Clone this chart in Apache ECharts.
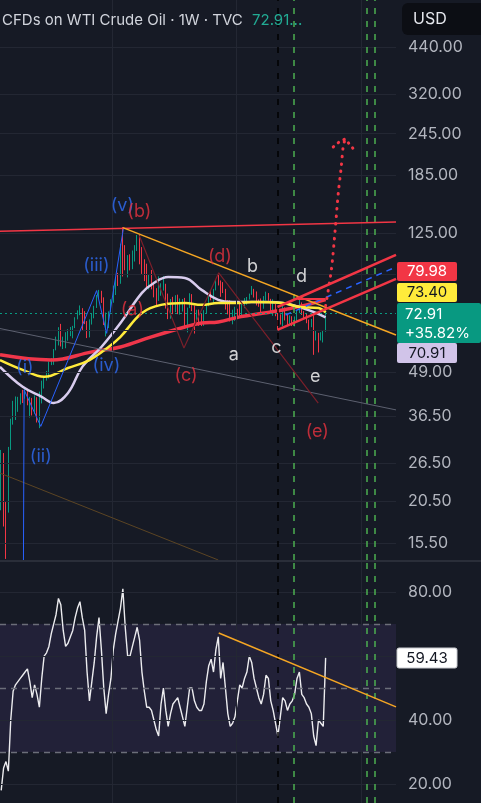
<!DOCTYPE html>
<html>
<head>
<meta charset="utf-8">
<script src="https://cdn.jsdelivr.net/npm/echarts@6.0.0/dist/echarts.min.js"></script>
<style>
html,body{margin:0;padding:0;background:#161a25;overflow:hidden}
#chart{width:481px;height:803px}
</style>
</head>
<body>
<div id="chart"></div>
<script>
// two-week candles [open, close, low, high], starting late March 2020
const candles = [
[22.4,28.3,19.3,29.0],[28.3,18.3,17.3,28.4],[18.3,17.0,13.9,20.5],[19.8,29.4,19.0,29.6],[29.4,35.5,29.0,35.8],
[35.5,36.3,34.4,40.4],[36.3,38.5,35.5,41.6],[38.5,40.5,37.5,41.5],[40.5,41.3,39.4,42.5],[41.3,41.2,39.8,43.5],
[41.2,42.3,41.0,43.8],[42.3,39.8,39.2,43.8],[39.8,41.1,36.1,41.5],[41.1,37.1,36.6,41.2],[37.1,40.9,37.0,41.9],
[40.9,35.8,34.9,41.4],[35.8,40.1,33.6,43.0],[40.1,45.5,39.7,46.3],[45.5,46.6,43.9,47.7],[46.6,48.2,46.3,49.4],
[48.2,52.2,47.0,52.7],[52.2,52.3,51.4,53.9],[52.3,56.9,51.5,57.3],[56.9,59.2,56.8,62.3],[59.2,66.1,58.7,66.4],
[66.1,61.4,58.3,67.9],[61.4,61.5,57.3,62.3],[61.5,63.1,57.6,64.2],[63.1,63.6,60.6,65.5],[63.6,65.4,62.5,66.5],
[65.4,66.3,61.6,67.0],[66.3,70.9,66.0,71.0],[70.9,74.0,70.0,74.4],[74.0,74.6,72.0,76.9],[74.6,72.1,65.0,75.5],
[72.1,68.3,67.8,74.0],[68.3,62.3,61.7,69.2],[62.3,69.3,62.0,70.0],[69.3,72.0,67.6,73.0],[72.0,75.9,70.5,76.7],
[75.9,82.3,75.6,82.5],[82.3,83.6,80.8,85.4],[83.6,80.8,78.2,84.9],[80.8,68.2,67.4,81.2],[68.2,71.7,62.4,73.3],
[71.7,73.8,66.0,73.9],[73.8,78.9,73.5,80.2],[78.9,85.1,78.3,87.9],[85.1,92.3,82.5,93.2],[92.3,91.1,87.7,95.8],
[91.1,115.7,89.0,116.6],[115.7,104.7,93.5,130.5],[104.7,99.3,97.5,115.5],[99.3,106.9,92.9,108.0],[106.9,104.7,97.4,108.6],
[104.7,110.5,98.2,111.4],[110.5,115.1,103.4,115.5],[115.1,120.7,111.0,123.7],[120.7,107.6,101.5,123.7],[107.6,104.8,95.1,114.0],
[104.8,94.7,90.6,105.0],[94.7,89.0,87.0,101.9],[89.0,90.8,85.7,94.5],[90.8,86.9,85.7,97.7],[86.9,85.1,81.2,89.8],
[85.1,79.5,76.3,86.4],[79.5,85.6,79.3,93.6],[85.6,87.9,82.1,89.3],[87.9,89.0,85.0,93.7],[89.0,76.3,75.3,89.0],
[76.3,71.0,70.1,83.3],[71.0,79.6,70.3,80.3],[79.6,73.8,72.5,81.5],[73.8,81.6,73.5,82.4],[81.6,73.4,72.5,82.7],
[73.4,76.3,72.3,80.6],[76.3,79.7,73.8,80.3],[79.7,66.7,65.7,80.9],[66.7,75.7,64.1,75.8],[75.7,82.5,75.5,83.5],
[82.5,76.8,74.0,83.0],[76.8,70.0,63.6,76.9],[70.0,72.7,69.4,74.7],[72.7,70.2,67.0,74.8],[70.2,69.2,66.9,72.6],
[69.2,73.9,67.0,74.5],[73.9,77.1,72.9,77.3],[77.1,82.8,76.5,83.3],[82.8,81.3,79.6,84.9],[81.3,85.6,77.6,86.0],
[85.6,90.8,85.1,91.2],[90.8,90.6,88.0,95.0],[90.8,87.7,81.5,91.0],[87.7,85.5,83.6,90.0],[85.5,77.2,74.8,86.0],
[77.2,75.5,72.4,79.7],[75.5,71.2,69.0,79.7],[71.2,73.6,67.7,74.7],[73.6,73.8,69.3,76.2],[73.8,73.4,70.1,75.2],
[73.4,72.3,71.4,78.8],[72.3,79.2,71.7,79.3],[79.2,80.0,75.5,80.8],[80.0,81.0,77.3,81.4],[81.0,83.2,80.0,83.3],
[83.2,85.7,82.6,87.7],[85.7,83.9,81.1,86.0],[83.9,78.3,76.9,84.5],[78.3,77.7,76.2,80.1],[77.7,75.5,72.5,80.6],
[75.5,80.7,75.2,81.9],[80.7,83.2,79.5,84.4],[83.2,80.1,79.4,83.6],[80.1,73.5,72.8,80.4],[73.5,76.7,71.7,80.2],
[76.7,73.6,71.5,77.6],[73.6,68.7,65.3,75.4],[68.7,68.2,67.6,72.4],[68.2,75.6,66.9,78.5],[75.6,71.8,69.5,75.9],
[71.8,70.4,66.9,72.9],[70.4,71.2,66.9,71.9],[71.2,67.2,66.9,71.5],[67.2,69.5,66.8,71.4],[69.5,74.0,68.8,74.2],
[74.0,77.9,73.0,80.8],[77.9,72.5,72.1,78.5],[72.5,70.7,70.3,74.0],[70.7,69.8,68.2,73.0],[69.8,67.2,65.2,69.9],
[67.2,69.4,66.4,70.2],[69.4,61.5,55.1,72.0],[61.5,63.0,60.7,64.9],[63.0,61.0,56.0,63.9],[61.0,61.5,60.7,64.2],
[61.5,64.6,59.9,65.0],[64.6,72.91,64.4,75.0]
];
const rsi = [
18,25,27,24,40,49,51,52,53,54,55,56,52,47,51,48,44,53,60,61,
63,67,70,73,78,76,68,63,64,66,68,72,75,77,72,68,55,46,52,58,
66,72,62,50,42,48,53,62,67,71,75,81,69,60,60,63,66,69,65,55,
49,44,44,43,40,37,35,45,50,43,38,42,45,46,47,44,41,38,44,50,
50,46,44,43,43,45,52,57,59,55,62,66,53,58,50,42,38,39,41,46,
51,50,53,55,60,58,53,50,47,45,48,54,53,46,43,39,35,41,47,46,
43,45,46,48,53,55,48,47,45,44,42,35,32,40,39,38,59.43
];
// moving averages [slot, price]
const maRed = [[-0.5,55.1],[21,53.2],[38,56.2],[50,58.1],[63,62.2],[77,66.5],[84,68.3],[91,68.8],[100,71.2],[105,72.1],[118,74.6],[128,77.2],[136,79.98]];
const maYellow = [[-0.5,53.2],[9,49.8],[18,47.5],[28,50.4],[37,53.2],[45,58.1],[50,62.2],[59,73.1],[67,77.2],[77,78.2],[84,77.2],[91,78.2],[100,78.2],[105,78.7],[118,78.2],[125,76.1],[133,75.6],[136,73.4]];
const maLavender = [[-0.5,50.8],[9,44.4],[17,41.5],[22,39.8],[28,42.6],[34,50.8],[42,58.1],[50,68.3],[59,83.7],[64,89.5],[70,93.2],[77,92.6],[84,85.4],[91,79.8],[97,78.7],[105,78.7],[112,78.7],[118,78.2],[125,76.1],[132,73.1],[136,70.91]];
// drawings [slot, price]
const topLine = [[-0.5,126.8],[165.5,135]];
const orangeLine = [[51,130],[165.5,63]];
const greyLine = [[-0.5,65.8],[165.5,38]];
const brownLine = [[-0.5,24.8],[91,13.8]];
const chanUpper = [[115.8,76.1],[165.5,108.1]];
const chanLower = [[115.8,65.2],[165.5,92]];
const chanMid = [[119.2,72.1],[165.5,99.7]];
const shortLevel = [[124.2,80.3],[135.9,80.3]];
const projection = [[136,76.7],[138.4,97.7],[140,128],[141.3,164],[142.5,194.5],[143.4,225.6],[144.2,236.5]];
const arrowHead = [[139.2,224],[141.7,231.8],[144.2,236.5],[146.3,227],[148.4,218]];
const waveImpulse = [[9.3,12],[9.6,43.5],[16.6,34],[40,85],[44.2,63.7],[51.2,129]];
const waveCorrection = [[57.9,123],[76.6,57.7],[91.2,95.8],[132.9,39.8]];
const rsiTrend = [[91.2,67.2],[165.5,44.1]];
const labelsBlue = [['(i)',9.9,50.4],['(ii)',16.6,27.7],['(iii)',39.9,100.4],['(iv)',44.1,51.1],['(v)',50.8,150.5]];
const labelsRed = [['(a)',55,74.6],['(b)',57.9,144.5],['(c)',77.5,47.8],['(d)',91.7,106.7],['(e)',132.5,32.8]];
const labelsWhite = [['a',97.5,55.1],['b',105.4,99.7],['c',115.4,57.7],['d',125.9,93.2],['e',131.7,47.5]];
const priceTicks = [440,320,245,185,125,95,65,49,36.5,26.5,20.5,15.5];
const rsiTicks = [80,60,40,20];
const rsiLevels = [70,50,30];
const lastPrice = 72.91;
const yearSlots = [46.5,98.5,151];
const blackMarks = [115.8];
const greenMarks = [122.6,153.4,156.6];
const tagValues = {red:'79.98', yellow:'73.40', last:'72.91', change:'+35.82%', lavender:'70.91', rsi:'59.43'};

const SLOTS = 166;
const slotNames = Array.from({length: SLOTS}, (_, i) => String(i));
const FONT = 'Inter, "Noto Sans", sans-serif';
const GRIDC = '#232733';
const GREEN = '#089981', RED = '#f23645';

function seg(data, color, width, type, extra) {
  return Object.assign({type:'line', xAxisIndex:1, yAxisIndex:0, data, symbol:'none', showSymbol:false, silent:true, z:5, clip:true,
    lineStyle:{color, width, type: type || 'solid'}}, extra || {});
}
function labelSeries(items, color) {
  return {type:'scatter', xAxisIndex:1, yAxisIndex:0, symbolSize:1, silent:true, z:7,
    itemStyle:{color:'rgba(0,0,0,0)'},
    data: items.map(d => ({name:d[0], value:[d[1], d[2]]})),
    label:{show:true, position:'inside', formatter:'{b}', color, fontSize:18, fontFamily:FONT}};
}
function vMarks(xi, yi) {
  return {type:'line', xAxisIndex:xi, yAxisIndex:yi, data:[], z:2, silent:true,
    markLine:{silent:true, symbol:['none','none'], animation:false, label:{show:false},
      data: blackMarks.map(v => ({xAxis:v, lineStyle:{color:'#000000', width:1.5, type:[6,7]}}))
        .concat(greenMarks.map(v => ({xAxis:v, lineStyle:{color:'#4caf50', width:1.5, type:[6,7]}})))}};
}

const option = {
  backgroundColor:'#161a25',
  animation:false,
  textStyle:{fontFamily:FONT},
  grid:[{left:-2, right:85, top:0, height:560}, {left:-2, right:85, top:562, bottom:0}],
  xAxis:[
    {type:'category', gridIndex:0, data:slotNames, boundaryGap:true, show:false},
    {type:'value', gridIndex:0, min:-0.5, max:165.5, show:false},
    {type:'category', gridIndex:1, data:slotNames, boundaryGap:true, show:false},
    {type:'value', gridIndex:1, min:-0.5, max:165.5, show:false}
  ],
  yAxis:[
    {type:'log', gridIndex:0, min:13.8, max:604, show:false},
    {type:'value', gridIndex:1, min:14.06, max:89.4, show:false}
  ],
  series:[
    {type:'line', xAxisIndex:1, yAxisIndex:0, data:[], z:1, silent:true,
      markLine:{silent:true, symbol:['none','none'], animation:false,
        lineStyle:{color:GRIDC, width:1, type:'solid'},
        label:{show:true, position:'end', distance:12, color:'#b2b5be', fontSize:16, fontFamily:FONT, formatter:p => Number(p.value).toFixed(2)},
        data: priceTicks.map(v => ({yAxis:v})).concat(yearSlots.map(v => ({xAxis:v, label:{show:false}})))}},
    vMarks(1, 0),
    {type:'candlestick', xAxisIndex:0, yAxisIndex:0, data:candles, barWidth:1.2, z:3, clip:true,
      itemStyle:{color:GREEN, color0:RED, borderColor:GREEN, borderColor0:RED, borderWidth:1},
      markLine:{silent:true, symbol:['none','none'], animation:false, label:{show:false},
        data:[{yAxis:lastPrice, lineStyle:{color:GREEN, width:1, type:[2,3]}}]}},
    seg(greyLine, '#5d6170', 1),
    seg(brownLine, '#5c4524', 1),
    seg(waveImpulse, '#2962ff', 1),
    seg(waveCorrection, '#7a1f2a', 1.2),
    seg(maRed, '#f0364a', 3.5, 'solid', {smooth:0.4, z:4}),
    seg(maLavender, '#d8ccee', 2.5, 'solid', {smooth:0.4, z:4}),
    seg(maYellow, '#ffeb3b', 2.5, 'solid', {smooth:0.4, z:4}),
    seg(topLine, RED, 1.5),
    seg(orangeLine, '#f5a623', 1.5),
    seg(chanUpper, RED, 2.5),
    seg(chanLower, RED, 2.5),
    seg(chanMid, '#2962ff', 1.5, [6,5]),
    seg(shortLevel, RED, 2),
    seg(projection, RED, 3, [0.5,7], {smooth:0.3, lineStyle:{color:RED, width:3, type:[0.5,7], cap:'round'}}),
    seg(arrowHead, RED, 3, [0.5,6], {lineStyle:{color:RED, width:3, type:[0.5,6], cap:'round'}}),
    labelSeries(labelsBlue, '#2f6df6'),
    labelSeries(labelsRed, '#e8323f'),
    labelSeries(labelsWhite, '#ffffff'),
    // RSI pane
    {type:'line', xAxisIndex:3, yAxisIndex:1, data:[], z:1, silent:true,
      markArea:{silent:true, itemStyle:{color:'rgba(126,87,194,0.12)'}, data:[[{yAxis:rsiLevels[2]},{yAxis:rsiLevels[0]}]]},
      markLine:{silent:true, symbol:['none','none'], animation:false,
        data: rsiTicks.map(v => ({yAxis:v, lineStyle:{color:GRIDC, width:1, type:'solid'},
            label:{show:true, position:'end', distance:12, color:'#b2b5be', fontSize:16, fontFamily:FONT, formatter:p => Number(p.value).toFixed(2)}}))
          .concat(rsiLevels.map(v => ({yAxis:v, lineStyle:{color:'#6b6e79', width:1.3, type:[6,5]}, label:{show:false}})))
          .concat(yearSlots.map(v => ({xAxis:v, lineStyle:{color:GRIDC, width:1, type:'solid'}, label:{show:false}})))}},
    vMarks(3, 1),
    {type:'line', xAxisIndex:2, yAxisIndex:1, data:rsi, symbol:'none', showSymbol:false, silent:true, z:4, clip:true,
      lineStyle:{color:'#ececef', width:1.4}},
    {type:'line', xAxisIndex:3, yAxisIndex:1, data:rsiTrend, symbol:'none', showSymbol:false, silent:true, z:5,
      lineStyle:{color:'#f5a623', width:1.5}}
  ],
  graphic:[
    {type:'line', shape:{x1:0, y1:561, x2:481, y2:561}, style:{stroke:'#2a2e39', lineWidth:2}, z:50},
    {type:'text', x:2, y:20, z:100, style:{text:'CFDs on WTI Crude Oil · 1W · TVC', fill:'#d1d4dc', font:'15px ' + FONT, verticalAlign:'middle'}},
    {type:'text', x:252, y:20, z:100, style:{text:tagValues.last + '...', fill:'#22ab94', font:'15px ' + FONT, verticalAlign:'middle'}},
    {type:'rect', z:100, shape:{x:402, y:3, width:90, height:32, r:6}, style:{fill:'#0c0e14'}},
    {type:'text', x:413, y:19, z:101, style:{text:'USD', fill:'#e6e8ee', font:'16px ' + FONT, verticalAlign:'middle'}},
    {type:'rect', z:100, shape:{x:397, y:262, width:60, height:19, r:2}, style:{fill:RED}},
    {type:'text', x:427, y:271.5, z:101, style:{text:tagValues.red, fill:'#ffffff', font:'15px ' + FONT, align:'center', verticalAlign:'middle'}},
    {type:'rect', z:100, shape:{x:397, y:283, width:60, height:19, r:2}, style:{fill:'#ffeb3b'}},
    {type:'text', x:427, y:292.5, z:101, style:{text:tagValues.yellow, fill:'#131722', font:'15px ' + FONT, align:'center', verticalAlign:'middle'}},
    {type:'rect', z:100, shape:{x:397, y:303, width:84, height:40, r:2}, style:{fill:GREEN}},
    {type:'text', x:405, y:314, z:101, style:{text:tagValues.last, fill:'#ffffff', font:'15px ' + FONT, verticalAlign:'middle'}},
    {type:'text', x:405, y:333, z:101, style:{text:tagValues.change, fill:'#ffffff', font:'15px ' + FONT, verticalAlign:'middle'}},
    {type:'rect', z:100, shape:{x:397, y:343, width:60, height:20, r:2}, style:{fill:'#d1c4e9'}},
    {type:'text', x:427, y:353, z:101, style:{text:tagValues.lavender, fill:'#131722', font:'15px ' + FONT, align:'center', verticalAlign:'middle'}},
    {type:'rect', z:100, shape:{x:397, y:648, width:60, height:20, r:2}, style:{fill:'#ffffff', stroke:'#c8cad0', lineWidth:1}},
    {type:'text', x:427, y:658, z:101, style:{text:tagValues.rsi, fill:'#131722', font:'15px ' + FONT, align:'center', verticalAlign:'middle'}}
  ]
};
const chart = echarts.init(document.getElementById('chart'), null, {renderer:'canvas'});
chart.setOption(option);
</script>
</body>
</html>
